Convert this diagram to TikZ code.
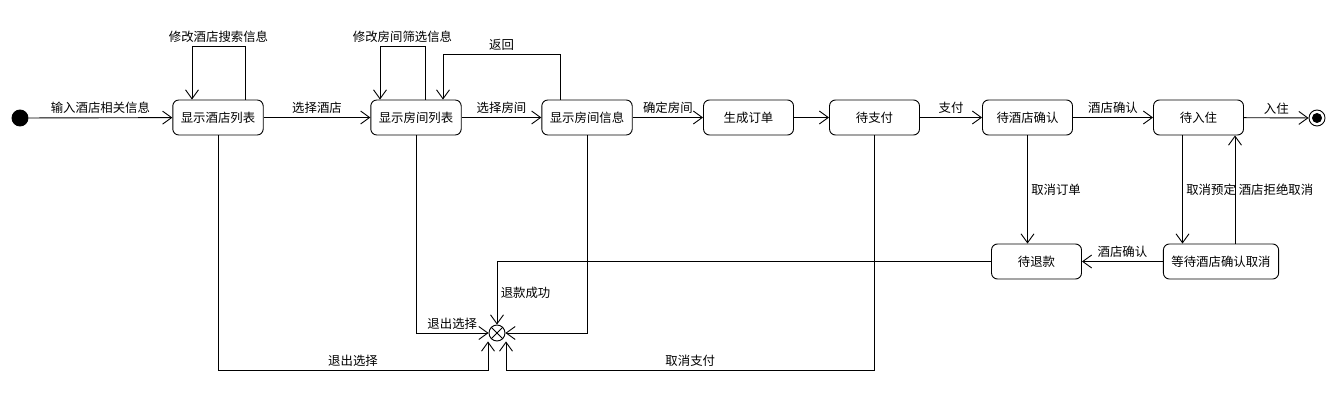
\documentclass[tikz,border=0pt]{standalone}
\usepackage{fontspec}
\setmainfont{Noto Sans CJK SC}
\usetikzlibrary{arrows.meta}

\begin{document}
\begin{tikzpicture}[x=1pt,y=-1pt,line width=0.9pt,>={Straight Barb[length=9pt,width=13pt]},
	every node/.append style = {font=\fontsize{12.4}{14}\selectfont},
	stato/.style = {draw,rounded corners=6pt,minimum width=90pt,minimum height=35pt,inner xsep=8pt},
	iniz/.style = {draw,fill,circle,minimum size=16pt,inner sep=0pt},
	fine/.style = {draw,circle,minimum size=16pt,inner sep=0pt},
	fusione/.style = {draw,circle,minimum size=16pt,inner sep=0pt}
	]
	\useasboundingbox (0,0) rectangle (1340,406);
	%STATI
	\node[iniz] (start) at (20,118) {};
	\node[stato] (hotels) at (218,117.5) {显示酒店列表};
	\node[stato] (roomlist) at (416,117.5) {显示房间列表};
	\node[stato] (roominfo) at (587,117.5) {显示房间信息};
	\node[stato] (order) at (748.5,117.5) {生成订单};
	\node[stato] (pay) at (874.5,117.5) {待支付};
	\node[stato] (confirm) at (1027.5,117.5) {待酒店确认};
	\node[stato] (checkin) at (1198.5,117.5) {待入住};
	\node[fine] (end) at (1317,118) {};
	\fill (end) circle (5pt);
	\node[stato] (refund) at (1036.5,261.5) {待退款};
	\node[stato] (waitcancel) at (1221,261.5) {等待酒店确认取消};
	\node[fusione] (merge) at (497,333) {};
	\draw (merge.north west) -- (merge.south east);
	\draw (merge.north east) -- (merge.south west);
	%TRANSIZIONI IN AVANTI
	\draw[->] (start) -- (hotels) node [midway, above] {输入酒店相关信息};
	\draw[->] (hotels) -- (roomlist) node [midway, above] {选择酒店};
	\draw[->] (roomlist) -- (roominfo) node [midway, above] {选择房间};
	\draw[->] (roominfo) -- (order) node [midway, above] {确定房间};
	\draw[->] (order) -- (pay);
	\draw[->] (pay) -- (confirm) node [midway, above] {支付};
	\draw[->] (confirm) -- (checkin) node [midway, above] {酒店确认};
	\draw[->] (checkin) -- (end) node [midway, above] {入住};
	%CICLI
	\draw[->] ([xshift=27pt]hotels.north) -- ++(0,-53) -| node [pos=.25, above] {修改酒店搜索信息} ([xshift=-26pt]hotels.north);
	\draw[->] ([xshift=9pt]roomlist.north) -- ++(0,-53) -| node [pos=.25, above] {修改房间筛选信息} ([xshift=-36pt]roomlist.north);
	\draw[->] ([xshift=-27pt]roominfo.north) -- ++(0,-45) -| node [pos=.25, above] {返回} ([xshift=27pt]roomlist.north);
	%ANNULLAMENTO
	\draw[->] (confirm.south) -- (confirm.south |- refund.north) node [midway, right] {取消订单};
	\draw[->] ([xshift=-16pt]checkin.south) -- ([xshift=-16pt]checkin.south |- waitcancel.north) node [midway, right] {取消预定};
	\draw[->] ([xshift=14pt]waitcancel.north) -- ([xshift=14pt]waitcancel.north |- checkin.south) node [midway, right] {酒店拒绝取消};
	\draw[->] (waitcancel) -- (refund) node [midway, above] {酒店确认};
	%VERSO LA FINE DEL FLUSSO
	\draw[->] (refund.west) -| node [pos=.75, right] {退款成功} (merge.north);
	\draw[->] (roomlist.south) |- node [pos=.75, above] {退出选择} (merge.west);
	\draw[->] (roominfo.south) |- (merge.east);
	\draw[->] (hotels.south) -- ++(0,235) -| node [pos=.25, above] {退出选择} ([xshift=-9pt]merge.south);
	\draw[->] (pay.south) -- ++(0,235) -| node [pos=.25, above] {取消支付} ([xshift=9pt]merge.south);
\end{tikzpicture}
\end{document}
